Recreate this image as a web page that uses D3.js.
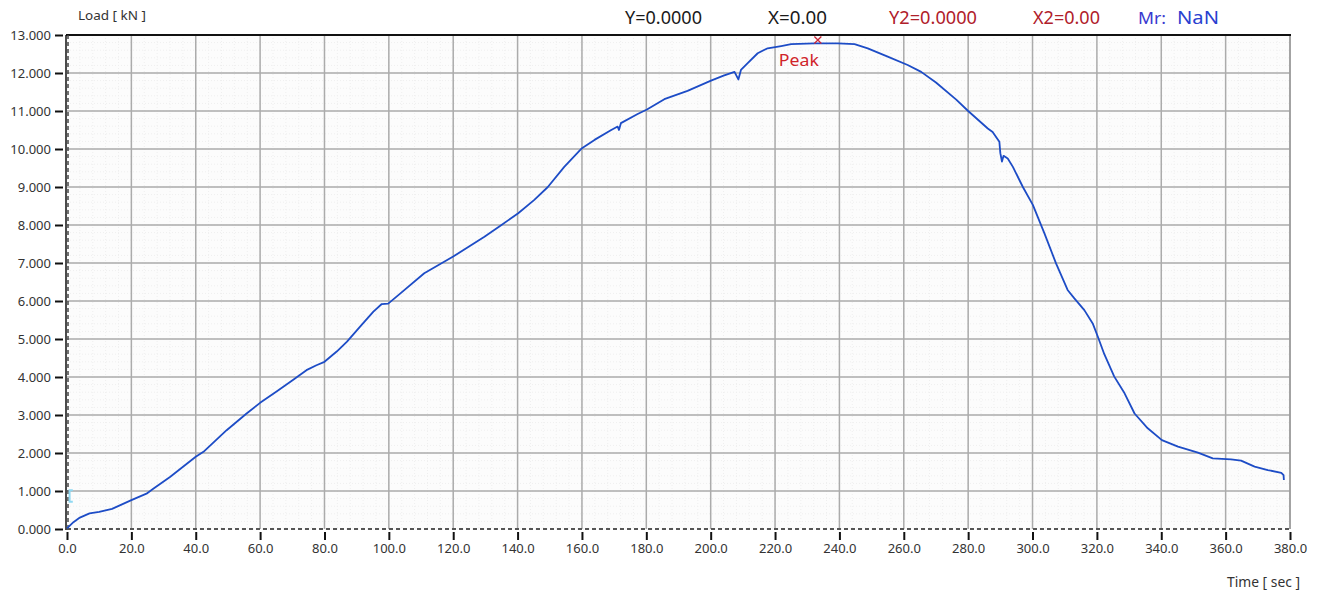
<!DOCTYPE html>
<html>
<head>
<meta charset="utf-8">
<script src="https://cdn.jsdelivr.net/npm/d3@7"></script>
<style>
  html, body { margin: 0; padding: 0; background: #ffffff; }
  svg { display: block; }
  text { font-family: "Noto Sans", "Open Sans", sans-serif; }
</style>
</head>
<body>
<svg id="chart" width="1317" height="594"></svg>
<script>
// ---- data ----
const timeSec = [0,0.4,2,4,7,10,14,20,24.7,26.8,32,40,42.4,49.6,55.8,60,65,70.3,74.4,77.5,80,83.8,87,91,95.2,97.8,99.8,103.6,111,120,129.7,135,140.2,145.2,149.4,154.5,160,163.9,169.1,171.1,171.5,172.1,177.3,180.2,185.6,192.8,200.1,204,207.4,208.6,209.4,211.5,214.6,217.7,221.9,225,232.2,239.5,244.7,248.8,255,261.2,265.4,270,276.3,280,286.1,287.6,289.7,290,290.5,291,292.3,293.9,297,300.1,303.7,307.3,310.9,313,316.1,318.7,320.3,322.3,325.4,328.6,331.7,335.8,340.2,345.2,351.4,356,361.7,364.8,369,373.1,377.3,378,378.1];
const loadKN = [0.02,0.05,0.18,0.3,0.41,0.45,0.53,0.76,0.93,1.06,1.37,1.9,2.03,2.6,3.04,3.32,3.61,3.93,4.18,4.31,4.4,4.67,4.93,5.32,5.72,5.92,5.93,6.2,6.73,7.17,7.69,8.0,8.31,8.66,9.0,9.53,10.02,10.24,10.5,10.59,10.5,10.68,10.92,11.04,11.31,11.53,11.8,11.93,12.03,11.83,12.08,12.26,12.52,12.65,12.71,12.76,12.78,12.78,12.76,12.65,12.43,12.21,12.03,11.75,11.3,11.0,10.54,10.45,10.19,9.89,9.67,9.82,9.75,9.53,9.0,8.53,7.78,6.99,6.29,6.07,5.76,5.41,5.06,4.6,4.01,3.57,3.04,2.65,2.34,2.17,2.01,1.86,1.83,1.8,1.64,1.55,1.48,1.42,1.29];
const peakPoint = [233.3, 12.87];
const xTicks = [0,20,40,60,80,100,120,140,160,180,200,220,240,260,280,300,320,340,360,380];
const yTicks = [0,1,2,3,4,5,6,7,8,9,10,11,12,13];
const headerItems = [
  {label: "Y=0.0000", color: "#1a1a1a"},
  {label: "X=0.00", color: "#1a1a1a"},
  {label: "Y2=0.0000", color: "#b0202a"},
  {label: "X2=0.00", color: "#b0202a"},
  {label: "Mr:", color: "#3a3ad0"},
  {label: "NaN", color: "#2a3fd0"}
];
const headerX = [625, 768, 889, 1033, 1138, 1177];
const headerW = [77, 59, 88, 67, 28, 42];

// ---- layout ----
const svg = d3.select("#chart");
const L = 67, R = 1290, T = 35, B = 529;
const x = d3.scaleLinear().domain([0, 380]).range([L, R]);
const y = d3.scaleLinear().domain([0, 13]).range([B, T]);

// plot background
svg.append("rect").attr("x", L).attr("y", T).attr("width", R - L).attr("height", B - T).attr("fill", "#fcfcfc");

// faint minor grid
const minorX = d3.range(0, 381, 4);
const minorY = d3.range(0, 13.01, 0.2);
svg.append("g").selectAll("line").data(minorX).join("line")
  .attr("x1", d => x(d)).attr("x2", d => x(d)).attr("y1", T).attr("y2", B)
  .attr("stroke", "#efefef").attr("stroke-width", 1).attr("stroke-dasharray", "1,2");
svg.append("g").selectAll("line").data(minorY).join("line")
  .attr("x1", L).attr("x2", R).attr("y1", d => y(d)).attr("y2", d => y(d))
  .attr("stroke", "#efefef").attr("stroke-width", 1).attr("stroke-dasharray", "1,2");

// major grid
svg.append("g").selectAll("line").data(xTicks.slice(1)).join("line")
  .attr("x1", d => x(d)).attr("x2", d => x(d)).attr("y1", T).attr("y2", B)
  .attr("stroke", "#ababab").attr("stroke-width", 1.5);
svg.append("g").selectAll("line").data(yTicks.slice(1, -1)).join("line")
  .attr("x1", L).attr("x2", R).attr("y1", d => y(d)).attr("y2", d => y(d))
  .attr("stroke", "#ababab").attr("stroke-width", 1.5);

// borders
svg.append("line").attr("x1", R).attr("x2", R).attr("y1", T).attr("y2", B).attr("stroke", "#9a9a9a").attr("stroke-width", 1.5);
svg.append("line").attr("x1", L - 1).attr("x2", R + 1).attr("y1", T).attr("y2", T).attr("stroke", "#111").attr("stroke-width", 2);
svg.append("line").attr("x1", L - 1).attr("x2", L - 1).attr("y1", T).attr("y2", B + 1).attr("stroke", "#111").attr("stroke-width", 1.5);
svg.append("line").attr("x1", L + 1).attr("x2", L + 1).attr("y1", T).attr("y2", B)
  .attr("stroke", "#444").attr("stroke-width", 1.5).attr("stroke-dasharray", "4,3");
svg.append("line").attr("x1", L).attr("x2", R).attr("y1", y(0)).attr("y2", y(0))
  .attr("stroke", "#555").attr("stroke-width", 2).attr("stroke-dasharray", "4,3");

// axes
const yAxis = d3.axisLeft(y).tickValues(yTicks).tickFormat(d3.format(".3f")).tickSize(8).tickPadding(4);
const gy = svg.append("g").attr("transform", `translate(${L - 4},0)`).call(yAxis);
gy.select(".domain").remove();
gy.selectAll(".tick line").attr("stroke", "#111").attr("stroke-width", 2);
gy.selectAll(".tick text").attr("font-size", 13).attr("fill", "#333").attr("font-family", "Noto Sans");

const xAxis = d3.axisBottom(x).tickValues(xTicks).tickFormat(d3.format(".1f")).tickSize(8).tickPadding(4);
const gx = svg.append("g").attr("transform", `translate(0,${B + 3})`).call(xAxis);
gx.select(".domain").remove();
gx.selectAll(".tick line").attr("stroke", "#111").attr("stroke-width", 2);
gx.selectAll(".tick text").attr("font-size", 13).attr("fill", "#333").attr("font-family", "Noto Sans");

// axis titles
svg.append("text").attr("x", 78).attr("y", 20).attr("font-size", 12.5).attr("fill", "#333")
  .attr("textLength", 68).attr("lengthAdjust", "spacingAndGlyphs").text("Load [ kN ]");
svg.append("text").attr("x", 1227).attr("y", 587).attr("font-size", 13.5).attr("fill", "#333")
  .attr("textLength", 73).attr("lengthAdjust", "spacingAndGlyphs").text("Time [ sec ]");

// header readouts
svg.append("g").selectAll("text").data(headerItems).join("text")
  .attr("x", (d, i) => headerX[i]).attr("y", 24)
  .attr("font-size", (d, i) => i === 4 ? 16 : 18)
  .attr("textLength", (d, i) => headerW[i]).attr("lengthAdjust", "spacingAndGlyphs")
  .attr("fill", d => d.color).text(d => d.label);

// cursor glyph near origin
svg.append("path")
  .attr("d", `M${x(1.8)},${y(1.02)} L${x(0.8)},${y(1.02)} L${x(0.8)},${y(0.72)} L${x(1.8)},${y(0.72)}`)
  .attr("fill", "none").attr("stroke", "#8fd8f2").attr("stroke-width", 2);

// load curve
const pts = timeSec.map((t, i) => [t, loadKN[i]]);
const line = d3.line().x(d => x(d[0])).y(d => y(d[1]));
svg.append("path").datum(pts).attr("d", line)
  .attr("fill", "none").attr("stroke", "#1d4cc6").attr("stroke-width", 1.8).attr("stroke-linejoin", "round");

// peak marker
const px = x(peakPoint[0]), py = y(peakPoint[1]);
svg.append("path").attr("d", `M${px - 3.5},${py - 3.5}L${px + 3.5},${py + 3.5}M${px - 3.5},${py + 3.5}L${px + 3.5},${py - 3.5}`)
  .attr("stroke", "#c8283a").attr("stroke-width", 1.3);
svg.append("text").attr("x", px - 39).attr("y", py + 26).attr("font-size", 17).attr("fill", "#d0242a")
  .attr("textLength", 40).attr("lengthAdjust", "spacingAndGlyphs").text("Peak");
</script>
</body>
</html>
